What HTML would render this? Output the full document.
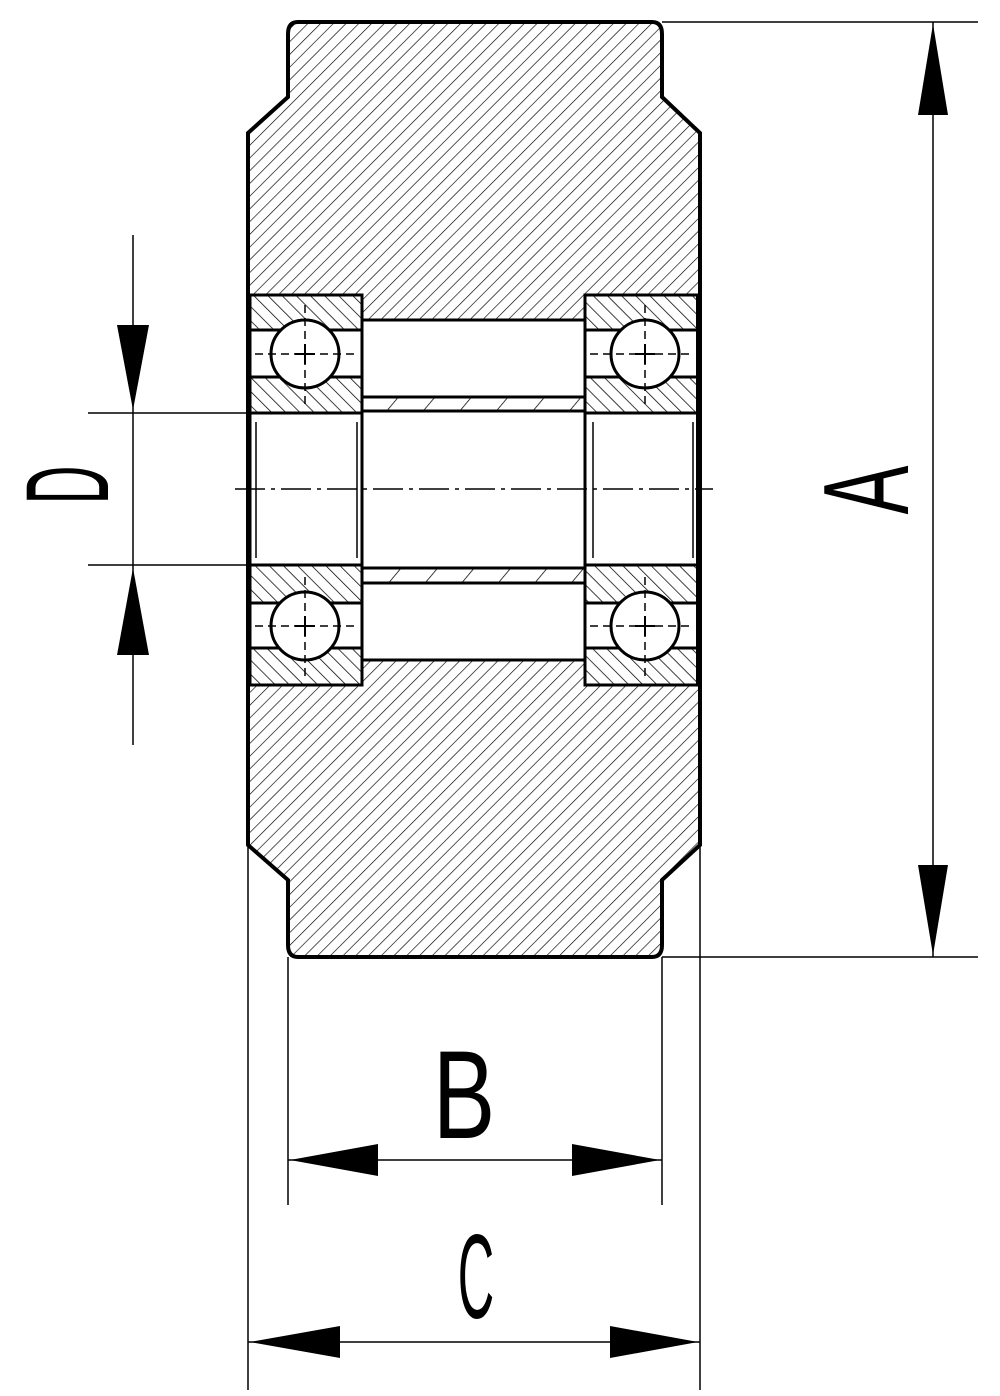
<!DOCTYPE html>
<html><head><meta charset="utf-8"><style>html,body{margin:0;padding:0;background:#fff}svg{display:block}</style></head>
<body>
<svg width="1000" height="1396" viewBox="0 0 1000 1396" xmlns="http://www.w3.org/2000/svg">
<defs>
<pattern id="h1" width="9" height="9" patternUnits="userSpaceOnUse" patternTransform="rotate(45)">
<line x1="0" y1="0" x2="0" y2="9" stroke="#000" stroke-width="1.3"/></pattern>
<pattern id="h2" width="10" height="10" patternUnits="userSpaceOnUse" patternTransform="rotate(-45)">
<line x1="0" y1="0" x2="0" y2="10" stroke="#000" stroke-width="1.5"/></pattern>
<pattern id="h3" width="28" height="28" patternUnits="userSpaceOnUse" patternTransform="rotate(40)">
<line x1="0" y1="0" x2="0" y2="28" stroke="#000" stroke-width="1.5"/></pattern>
</defs>
<g fill="none" stroke="#000">
<path d="M298,22 H652 Q662,22 662,34 V97 L700,133 V845 L662,880 V945 Q662,957 652,957 H298 Q288,957 288,945 V880 L248,845 V133 L288,97 V34 Q288,22 298,22 Z" fill="url(#h1)" stroke-width="4"/>
<rect x="248" y="295" width="114" height="390" fill="#fff" stroke="none"/>
<rect x="585" y="295" width="113" height="390" fill="#fff" stroke="none"/>
<line x1="248" y1="295" x2="248" y2="685" stroke-width="4"/>
<line x1="698" y1="295" x2="698" y2="685" stroke-width="4"/>
<rect x="362" y="320" width="223" height="340" fill="#fff" stroke="none"/>
<line x1="362" y1="320" x2="585" y2="320" stroke-width="3"/>
<line x1="362" y1="660" x2="585" y2="660" stroke-width="3"/>
<rect x="362" y="397" width="223" height="14" fill="url(#h3)" stroke-width="3"/>
<rect x="362" y="568" width="223" height="15" fill="url(#h3)" stroke-width="3"/>

<g stroke-width="3">
<rect x="250" y="295" width="112" height="35" fill="url(#h2)"/>
<rect x="250" y="377" width="112" height="36" fill="url(#h2)"/>
<rect x="250" y="295" width="112" height="118"/>
<circle cx="305" cy="354" r="34" fill="#fff"/>
<rect x="585" y="295" width="113" height="35" fill="url(#h2)"/>
<rect x="585" y="377" width="113" height="36" fill="url(#h2)"/>
<rect x="585" y="295" width="113" height="118"/>
<circle cx="645" cy="354" r="34" fill="#fff"/>
<rect x="250" y="565" width="112" height="38" fill="url(#h2)"/>
<rect x="250" y="648" width="112" height="37" fill="url(#h2)"/>
<rect x="250" y="565" width="112" height="120"/>
<circle cx="305" cy="626" r="34" fill="#fff"/>
<rect x="585" y="565" width="113" height="38" fill="url(#h2)"/>
<rect x="585" y="648" width="113" height="37" fill="url(#h2)"/>
<rect x="585" y="565" width="113" height="120"/>
<circle cx="645" cy="626" r="34" fill="#fff"/>
<rect x="250" y="413" width="112" height="152"/>
<rect x="585" y="413" width="113" height="152"/>
</g>
<g stroke-width="1.5">
<line x1="256" y1="422" x2="256" y2="558"/><line x1="357" y1="422" x2="357" y2="558"/>
<line x1="593" y1="422" x2="593" y2="558"/><line x1="693" y1="422" x2="693" y2="558"/>
</g>
<g stroke-width="1.5" stroke-dasharray="8,5">
<line x1="255" y1="354" x2="357" y2="354"/><line x1="305" y1="305" x2="305" y2="405"/>
<line x1="590" y1="354" x2="693" y2="354"/><line x1="645" y1="305" x2="645" y2="405"/>
<line x1="255" y1="626" x2="357" y2="626"/><line x1="305" y1="577" x2="305" y2="677"/>
<line x1="590" y1="626" x2="693" y2="626"/><line x1="645" y1="577" x2="645" y2="677"/>
</g>
<g stroke-width="2">
<line x1="295" y1="354" x2="315" y2="354"/><line x1="305" y1="344" x2="305" y2="364"/>
<line x1="635" y1="354" x2="655" y2="354"/><line x1="645" y1="344" x2="645" y2="364"/>
<line x1="295" y1="626" x2="315" y2="626"/><line x1="305" y1="616" x2="305" y2="636"/>
<line x1="635" y1="626" x2="655" y2="626"/><line x1="645" y1="616" x2="645" y2="636"/>
</g>
<line x1="235" y1="489" x2="713" y2="489" stroke-width="1.5" stroke-dasharray="30,6,4,6"/>

<g stroke-width="1.5">
<line x1="662" y1="22" x2="978" y2="22"/><line x1="662" y1="957" x2="978" y2="957"/>
<line x1="933" y1="22" x2="933" y2="957"/>
<line x1="88" y1="413" x2="250" y2="413"/><line x1="88" y1="565" x2="250" y2="565"/>
<line x1="133" y1="235" x2="133" y2="745"/>
<line x1="288" y1="957" x2="288" y2="1205"/><line x1="662" y1="957" x2="662" y2="1205"/>
<line x1="288" y1="1160" x2="662" y2="1160"/>
<line x1="248" y1="845" x2="248" y2="1390"/><line x1="700" y1="845" x2="700" y2="1390"/>
<line x1="248" y1="1342" x2="700" y2="1342"/>
</g>
</g>
<g fill="#000">
<polygon points="933,24 918,115 948,115"/>
<polygon points="933,955 918,865 948,865"/>
<polygon points="133,410 117,325 149,325"/>
<polygon points="133,568 117,655 149,655"/>
<polygon points="290,1160 378,1144 378,1176"/>
<polygon points="660,1160 572,1144 572,1176"/>
<polygon points="250,1342 340,1326 340,1358"/>
<polygon points="698,1342 610,1326 610,1358"/>
</g>
<g font-family="Liberation Sans, sans-serif" fill="#000">
<text transform="translate(908,490) rotate(-90) scale(0.6,1)" text-anchor="middle" font-size="122">A</text>
<text transform="translate(108,485) rotate(-90) scale(0.45,1)" text-anchor="middle" font-size="118">D</text>
<text transform="translate(464,1138) scale(0.75,1)" text-anchor="middle" font-size="125">B</text>
<text transform="translate(476,1318) scale(0.42,1)" text-anchor="middle" font-size="120">C</text>
</g>
</svg>
</body></html>
